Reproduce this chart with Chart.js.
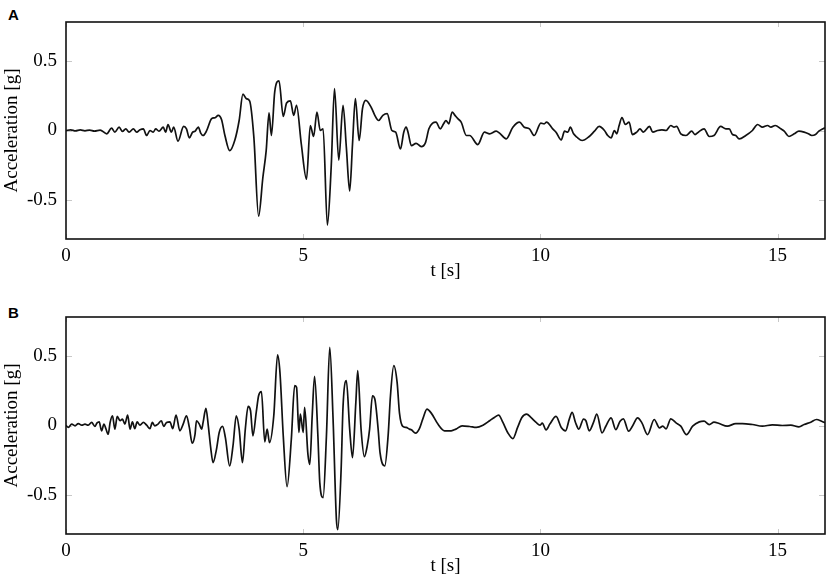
<!DOCTYPE html>
<html>
<head>
<meta charset="utf-8">
<script src="https://cdn.jsdelivr.net/npm/chart.js@4.4.0/dist/chart.umd.min.js"></script>
<style>
  html, body { margin:0; padding:0; background:#fff; overflow:hidden; width:829px; height:581px; }
  .panel { position:absolute; left:0; width:829px; height:290px; }
  .letter { position:absolute; left:8px; font-family:"Liberation Sans", Arial, sans-serif; font-weight:bold; font-size:15px; line-height:15px; color:#000; }
</style>
</head>
<body>
<div class="letter" style="top:7px">A</div>
<div class="letter" style="top:305px">B</div>
<div class="panel" style="top:0px"><canvas id="chartA" width="829" height="290"></canvas></div>
<div class="panel" style="top:295px"><canvas id="chartB" width="829" height="290"></canvas></div>
<script>
// ---- data ----
const timeA = [0,0.1,0.2,0.3,0.4,0.5,0.6,0.72,0.86,0.96,1.03,1.12,1.19,1.26,1.33,1.42,1.49,1.56,1.63,1.70,1.77,1.84,1.89,1.96,2.05,2.10,2.15,2.22,2.27,2.36,
  2.48,2.54,2.60,2.67,2.72,2.79,2.84,2.89,2.96,3.07,3.14,3.21,3.28,3.35,3.45,3.56,3.65,3.73,3.80,3.87,3.96,4.06,4.15,4.22,4.28,4.33,4.40,4.49,4.58,4.65,4.73,4.80,4.86,4.96,
  5.07,5.15,5.22,5.29,5.36,5.42,5.51,5.59,5.66,5.75,5.84,5.91,5.98,6.04,6.10,6.18,6.25,6.32,6.44,6.51,6.59,6.68,6.77,6.87,6.95,7.05,7.12,7.17,7.21,7.28,7.38,7.49,7.58,7.65,
  7.73,7.80,7.89,7.96,8.01,8.07,8.14,8.20,8.26,8.33,8.44,8.51,8.68,8.82,8.93,9.07,9.14,9.28,9.42,9.56,9.66,9.77,9.87,10.01,10.08,10.13,10.26,10.33,10.44,10.51,10.58,10.63,
  10.70,10.77,10.88,11.03,11.14,11.24,11.35,11.42,11.49,11.56,11.61,11.66,11.72,11.79,11.87,11.94,12.03,12.10,12.17,12.30,12.37,12.47,12.56,12.65,12.75,12.82,12.87,12.96,
  13.07,13.19,13.26,13.33,13.45,13.56,13.66,13.80,13.91,13.98,14.05,14.12,14.19,14.33,14.47,14.58,14.68,14.79,14.86,14.95,15.07,15.14,15.24,15.35,15.45,15.56,15.65,15.72,
  15.80,15.87,15.96,16.0];
const accelA = [0,0.005,-0.003,0.004,-0.002,0.003,-0.004,0.003,-0.024,0.017,-0.012,0.024,-0.007,0.012,-0.012,0.012,-0.012,0.005,0.012,-0.036,0,-0.012,0.012,-0.005,0.024,-0.012,0.043,-0.012,0.024,-0.077,
  0.029,0.012,-0.053,-0.012,-0.005,0.024,-0.019,-0.036,-0.005,0.085,0.092,0.109,0.077,-0.036,-0.145,-0.068,0.072,0.261,0.229,0.213,-0.048,-0.616,-0.338,-0.145,0.126,-0.036,0.278,0.357,0.101,0.198,0.213,0.109,0.181,-0.097,
  -0.350,0.036,-0.043,0.133,0,0.012,-0.681,-0.266,0.302,-0.213,0.181,-0.121,-0.435,-0.097,0.229,-0.072,0.157,0.217,0.162,0.109,0.072,0.109,0.121,0,-0.012,-0.133,-0.012,0.024,-0.012,-0.109,-0.092,-0.116,-0.085,0.012,
  0.053,0.060,0.012,0.048,0.072,0.048,0.133,0.109,0.085,0.060,-0.036,-0.036,-0.101,-0.012,-0.024,-0.005,-0.019,-0.060,0.024,0.060,0.024,0.012,-0.036,0.053,0.048,0.060,0.012,-0.012,-0.068,-0.005,-0.012,0.024,
  -0.024,-0.048,-0.072,-0.043,-0.005,0.029,0,-0.036,-0.053,0,-0.024,0.036,0.092,0.043,0.060,-0.029,-0.012,0.012,-0.012,0.029,-0.012,0,0.005,0,0.036,0.024,0.029,-0.024,
  -0.036,-0.005,-0.029,-0.012,0.012,-0.043,-0.036,0.029,0.012,0.012,-0.029,-0.036,-0.060,-0.036,0,0.043,0.024,0.036,0.024,0.036,0.012,-0.005,-0.043,-0.024,-0.005,-0.012,-0.024,-0.036,
  -0.029,-0.005,0.012,0.02];

const timeB = [0,0.05,0.12,0.19,0.26,0.33,0.40,0.47,0.54,0.61,0.65,0.70,0.75,0.80,0.84,0.89,0.93,0.98,1.03,1.08,1.14,1.19,1.24,1.30,1.35,1.40,1.45,1.50,1.56,1.63,1.70,1.77,1.82,1.87,1.94,2.01,2.06,2.12,2.19,2.25,2.32,
  2.40,2.47,2.54,2.60,2.66,2.72,2.75,2.81,2.86,2.89,2.95,3.00,3.05,3.10,3.17,3.23,3.30,3.36,3.45,3.52,3.59,3.65,3.72,3.78,3.84,3.89,3.94,4.01,4.06,4.12,4.19,4.24,4.29,4.38,4.46,4.51,4.58,4.66,4.75,4.82,4.86,4.91,4.94,
  5.00,5.03,5.10,5.14,5.19,5.24,5.31,5.35,5.42,5.49,5.56,5.63,5.70,5.73,5.80,5.84,5.91,5.98,6.04,6.11,6.15,6.22,6.29,6.35,6.40,6.46,6.51,6.58,6.62,6.72,6.79,6.84,6.91,6.98,7.03,7.10,7.17,7.24,7.28,7.37,7.45,7.52,7.61,7.70,
  7.84,7.98,8.12,8.22,8.35,8.51,8.65,8.79,8.93,9.03,9.12,9.21,9.31,9.42,9.52,9.61,9.71,9.80,9.91,9.99,10.04,10.12,10.20,10.33,10.44,10.53,10.61,10.67,10.74,10.81,10.91,10.96,11.03,11.12,11.19,
  11.30,11.38,11.49,11.59,11.68,11.75,11.86,11.94,12.05,12.14,12.26,12.40,12.51,12.58,12.65,12.75,12.86,12.96,13.08,13.21,13.35,13.45,13.56,13.66,13.77,13.94,14.12,14.26,14.47,14.68,14.89,15.10,15.28,15.45,15.56,15.70,15.82,15.93,16.0];
const accelB = [0,-0.014,0.010,-0.002,0.014,0.002,0.010,0.002,0.022,-0.007,0.017,0.026,-0.038,0.010,-0.022,-0.063,0.022,0.070,-0.026,0.065,0.034,0.046,0.010,0.075,-0.026,0.026,-0.022,0.026,0.002,0.022,0.002,-0.022,0.022,-0.002,0.010,0.034,-0.007,0.022,0.026,-0.022,0.075,
  -0.038,0.010,0.070,-0.014,-0.127,-0.063,0.034,0.010,-0.026,0.022,0.123,-0.002,-0.159,-0.267,-0.175,-0.050,-0.007,-0.087,-0.291,-0.147,0.070,-0.026,-0.267,-0.026,0.137,0.106,-0.075,0.094,0.214,0.243,-0.118,-0.026,-0.123,0.070,0.507,0.382,-0.075,-0.440,-0.099,0.286,0.274,-0.050,0.082,
  -0.050,0.130,-0.207,-0.279,0.070,0.353,-0.075,-0.411,-0.519,-0.075,0.562,0.046,-0.675,-0.748,-0.315,0.137,0.322,-0.026,-0.231,0.166,0.394,-0.026,-0.224,-0.147,-0.026,0.214,0.190,-0.026,-0.195,-0.291,-0.075,0.214,0.430,0.310,0.089,-0.007,-0.014,-0.026,-0.031,-0.055,-0.022,0.046,0.118,0.089,
  0.010,-0.038,-0.038,-0.026,-0.002,-0.007,-0.014,0.002,0.034,0.058,0.075,0.022,-0.050,-0.094,-0.014,0.058,0.082,0.058,0.022,0.002,0.017,-0.031,0.010,0.065,-0.014,-0.038,0.046,0.094,0.022,-0.026,0.046,0.034,-0.038,0.022,0.082,
  -0.053,-0.005,0.055,-0.029,0.031,0.048,-0.041,-0.005,0.055,0.019,-0.065,0.043,-0.017,-0.005,-0.024,0.048,0.019,-0.005,-0.065,-0.005,0.026,0.031,0.007,0.024,0.014,-0.005,0.014,0.014,0.007,-0.005,0.005,0,0.002,-0.010,0.007,0.024,0.043,0.031,0.02];

const xTicks = [0, 5, 10, 15];
const yTicks = [-0.5, 0, 0.5];
const xLabel = 't [s]';
const yLabel = 'Acceleration [g]';

// ---- drawing ----
const SERIF = '"Liberation Serif", "Times New Roman", serif';

const framePlugin = {
  id: 'frame',
  beforeDatasetsDraw(chart) {
    const {ctx, chartArea: a, scales: {x, y}} = chart;
    ctx.save();
    ctx.strokeStyle = '#c8c8c8';
    ctx.lineWidth = 1;
    xTicks.forEach(v => {
      const px = Math.round(x.getPixelForValue(v)) + 0.5;
      ctx.beginPath();
      ctx.moveTo(px, a.bottom); ctx.lineTo(px, a.bottom - 5);
      ctx.moveTo(px, a.top); ctx.lineTo(px, a.top + 5);
      ctx.stroke();
    });
    yTicks.forEach(v => {
      const py = Math.round(y.getPixelForValue(v)) + 0.5;
      ctx.beginPath();
      ctx.moveTo(a.left, py); ctx.lineTo(a.left + 6, py);
      ctx.moveTo(a.right, py); ctx.lineTo(a.right - 6, py);
      ctx.stroke();
    });
    ctx.restore();
  },
  afterDatasetsDraw(chart) {
    const {ctx, chartArea: a} = chart;
    ctx.save();
    ctx.strokeStyle = '#111';
    ctx.lineWidth = 1.6;
    ctx.strokeRect(a.left, a.top, a.right - a.left, a.bottom - a.top);
    ctx.restore();
  }
};

function makeChart(id, times, values) {
  const pts = times.map((t, i) => ({x: t, y: values[i]}));
  return new Chart(document.getElementById(id), {
    type: 'line',
    data: { datasets: [{ data: pts, borderColor: '#111', borderWidth: 1.7, pointRadius: 0, fill: false, cubicInterpolationMode: 'monotone' }] },
    options: {
      responsive: false,
      animation: false,
      devicePixelRatio: 1,
      layout: { padding: { left: 0, top: 22, right: 4, bottom: 0 } },
      plugins: { legend: { display: false }, tooltip: { enabled: false } },
      scales: {
        x: {
          type: 'linear', min: 0, max: 16,
          afterBuildTicks: s => { s.ticks = xTicks.map(v => ({value: v})); },
          afterFit: s => { s.height = 51; },
          grid: { display: false, drawTicks: false },
          border: { display: false },
          ticks: { color: '#000', font: { family: SERIF, size: 19 }, padding: 6, maxRotation: 0, callback: v => String(v) },
          title: { display: true, text: xLabel, color: '#000', font: { family: SERIF, size: 19 }, padding: { top: 0, bottom: 8 } }
        },
        y: {
          type: 'linear', min: -0.78, max: 0.78,
          afterBuildTicks: s => { s.ticks = yTicks.map(v => ({value: v})); },
          afterFit: s => { s.width = 66; },
          grid: { display: false, drawTicks: false },
          border: { display: false },
          ticks: { color: '#000', font: { family: SERIF, size: 19 }, padding: 9, callback: v => String(v) },
          title: { display: true, text: yLabel, color: '#000', font: { family: SERIF, size: 19 }, padding: { top: 1, bottom: 0 } }
        }
      }
    },
    plugins: [framePlugin]
  });
}

makeChart('chartA', timeA, accelA);
makeChart('chartB', timeB, accelB);
</script>
</body>
</html>
